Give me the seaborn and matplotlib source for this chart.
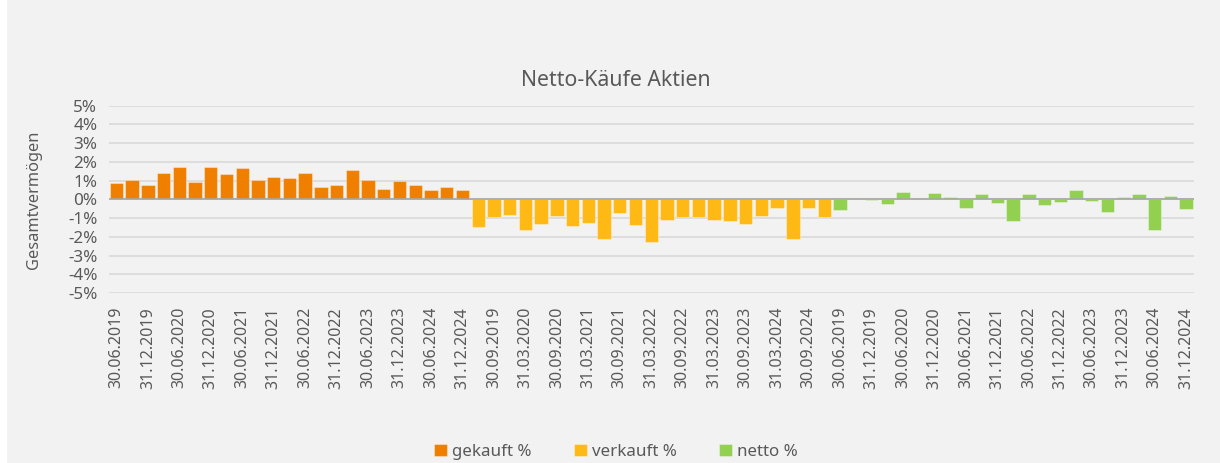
import pandas as pd
import matplotlib.pyplot as plt
from matplotlib.patches import Rectangle
import seaborn as sns

# Quartalsstichtage, gleiche Liste fuer alle drei Gruppen
dates = ['30.06.2019', '30.09.2019', '31.12.2019', '31.03.2020', '30.06.2020', '30.09.2020',
         '31.12.2020', '31.03.2021', '30.06.2021', '30.09.2021', '31.12.2021', '31.03.2022',
         '30.06.2022', '30.09.2022', '31.12.2022', '31.03.2023', '30.06.2023', '30.09.2023',
         '31.12.2023', '31.03.2024', '30.06.2024', '30.09.2024', '31.12.2024']

gekauft = [0.88, 1.02, 0.77, 1.39, 1.71, 0.93, 1.71, 1.36, 1.66, 1.04, 1.20, 1.16,
           1.41, 0.68, 0.77, 1.59, 1.04, 0.57, 0.98, 0.75, 0.48, 0.64, 0.48]
verkauft = [-1.46, -0.96, -0.86, -1.64, -1.34, -0.89, -1.41, -1.27, -2.13, -0.75, -1.38, -2.30,
            -1.11, -0.95, -0.93, -1.11, -1.16, -1.29, -0.89, -0.45, -2.13, -0.46, -0.96]
netto = [-0.55, 0.05, -0.05, -0.23, 0.38, 0.05, 0.32, 0.11, -0.45, 0.27, -0.20, -1.13,
         0.29, -0.29, -0.14, 0.48, -0.09, -0.70, 0.11, 0.30, -1.64, 0.20, -0.50]

series = ['gekauft %', 'verkauft %', 'netto %']
colors = ['#F07F00', '#FFB915', '#92D050']
y_ticks = [5, 4, 3, 2, 1, 0, -1, -2, -3, -4, -5]

rows = []
for name, vals in zip(series, [gekauft, verkauft, netto]):
    for d, v in zip(dates, vals):
        rows.append({'key': name + ' ' + d, 'datum': d, 'wert': v, 'serie': name})
df = pd.DataFrame(rows)

sns.set_style('white')
plt.rcParams['font.family'] = ['Noto Sans', 'DejaVu Sans']
text_col = '#595959'

fig = plt.figure(figsize=(12.2, 4.63), dpi=100, facecolor='#f2f2f2')
ax = fig.add_axes([108.5 / 1220, 1 - 293 / 463, (1194 - 108.5) / 1220, (293 - 105.7) / 463])
ax.set_facecolor('#f2f2f2')

sns.barplot(data=df, x='key', y='wert', hue='serie', order=list(df['key']),
            hue_order=series, palette=colors, saturation=1, dodge=False, width=0.85,
            edgecolor=(1, 1, 1, 0.35), linewidth=0.8, ax=ax)

handles, labels = ax.get_legend_handles_labels()
ax.get_legend().remove()

ax.set_ylim(-5, 5)
ax.set_xlim(-0.5, len(df) - 0.5)
ax.set_yticks(y_ticks)
ax.set_yticklabels([f'{t}%' for t in y_ticks])
ax.set_xticks(range(len(df)))
ax.set_xticklabels([d if i % 2 == 0 else '' for i, d in enumerate(df['datum'])], rotation=90)
ax.tick_params(axis='x', length=0, pad=10, labelsize=11.5, colors=text_col)
ax.tick_params(axis='y', length=0, pad=8, labelsize=12.3, colors=text_col)

for t in y_ticks:
    ax.axhline(t, color='#d9d9d9', lw=1.2, zorder=0)
ax.axhline(0, color='#a6a6a6', lw=1.2, zorder=3)
for s in ax.spines.values():
    s.set_visible(False)

ax.set_xlabel('')
ax.set_ylabel('Gesamtvermögen', fontsize=11.8, color=text_col)
ax.yaxis.set_label_coords(-0.061, 0.5)

fig.text(616 / 1220, 1 - 80 / 463, 'Netto-Käufe Aktien', ha='center', va='center',
         fontsize=15.3, color=text_col)

fig.legend(handles, labels, loc='center', bbox_to_anchor=(0.505, 1 - 452 / 463), ncol=3,
           frameon=False, fontsize=12.2, handlelength=0.75, handleheight=0.75,
           handletextpad=0.3, columnspacing=2.5, labelcolor=text_col)

fig.add_artist(Rectangle((0, 0), 6 / 1220, 1, transform=fig.transFigure, color='white'))

plt.savefig('out.png', dpi=100, facecolor=fig.get_facecolor())
plt.close()
